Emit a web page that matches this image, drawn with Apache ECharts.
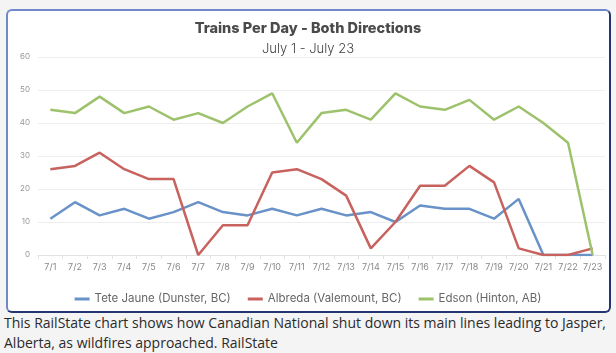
<!DOCTYPE html>
<html>
<head>
<meta charset="utf-8">
<script src="https://cdn.jsdelivr.net/npm/echarts@6/dist/echarts.min.js"></script>
<style>
  html, body { margin: 0; padding: 0; background: #f4f4f4; }
  .page { position: relative; width: 616px; height: 353px; overflow: hidden; }
  .card {
    position: absolute; left: 6px; top: 9px; width: 601px; height: 300px;
    background: #fff; border: 2px solid #6f88cc;
    border-right-color: #24356f; border-bottom-color: #24356f;
    border-radius: 6px;
  }
  #chart { position: absolute; left: 0; top: 0; width: 616px; height: 313px; }
  .caption {
    position: absolute; left: 4px; top: 313px; width: 612px;
    font-family: "Open Sans", sans-serif; font-size: 14px; line-height: 20px; color: #2b2b2b;
  }
</style>
</head>
<body>
<div class="page">
  <div class="card"></div>
  <div id="chart"></div>
  <div class="caption">This RailState chart shows how Canadian National shut down its main lines leading to Jasper, Alberta, as wildfires approached. RailState</div>
</div>
<script>
// days on x axis
const days = ['7/1','7/2','7/3','7/4','7/5','7/6','7/7','7/8','7/9','7/10','7/11','7/12',
  '7/13','7/14','7/15','7/16','7/17','7/18','7/19','7/20','7/21','7/22','7/23'];
const teteJaune = [11,16,12,14,11,13,16,13,12,14,12,14,12,13,10,15,14,14,11,17,0,0,0];
const albreda = [26,27,31,26,23,23,0,9,9,25,26,23,18,2,10,21,21,27,22,2,0,0,2];
const edson = [44,43,48,43,45,41,43,40,45,49,34,43,44,41,49,45,44,47,41,45,40,34,0];
const seriesNames = ['Tete Jaune (Dunster, BC)', 'Albreda (Valemount, BC)', 'Edson (Hinton, AB)'];

const chart = echarts.init(document.getElementById('chart'));
const lineSeries = (name, data, color) => ({
  name: name,
  type: 'line',
  data: data,
  symbol: 'none',
  lineStyle: { width: 2.5, color: color },
  itemStyle: { color: color }
});

chart.setOption({
  color: ['#6892c8', '#c8625f', '#9dc26c'],
  title: {
    text: 'Trains Per Day - Both Directions',
    subtext: 'July 1 - July 23',
    left: 'center',
    top: 16,
    itemGap: 7,
    textStyle: { fontFamily: 'Inter', fontWeight: 800, fontSize: 14.5, color: '#4a4a4a' },
    subtextStyle: { fontFamily: 'Inter', fontWeight: 300, fontSize: 13, color: '#444' }
  },
  legend: {
    data: seriesNames,
    left: 'center',
    top: 288,
    itemWidth: 15,
    itemHeight: 3,
    itemGap: 17,
    icon: 'rect',
    textStyle: { fontFamily: 'Inter', fontSize: 11.5, color: '#666' }
  },
  grid: { left: 38, right: 11, top: 57, bottom: 313 - 255 },
  xAxis: {
    type: 'category',
    data: days,
    axisLine: { lineStyle: { color: '#e2e2e2' } },
    axisTick: { show: true, lineStyle: { color: '#e2e2e2' }, length: 4 },
    axisLabel: { fontFamily: 'Inter', fontSize: 9, color: '#888', margin: 8, interval: 0 }
  },
  yAxis: {
    type: 'value',
    min: 0,
    max: 60,
    interval: 10,
    axisLabel: { fontFamily: 'Inter', fontSize: 8, color: '#999', margin: 8 },
    splitLine: { lineStyle: { color: '#eeeeee' } }
  },
  series: [
    lineSeries(seriesNames[0], teteJaune, '#6892c8'),
    lineSeries(seriesNames[1], albreda, '#c8625f'),
    lineSeries(seriesNames[2], edson, '#9dc26c')
  ]
});
</script>
</body>
</html>
